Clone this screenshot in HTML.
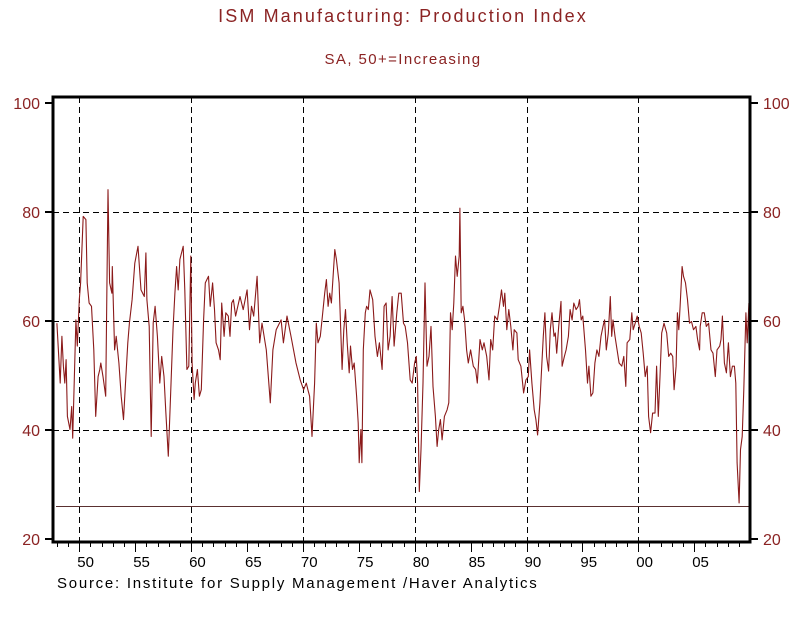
<!DOCTYPE html>
<html><head><meta charset="utf-8"><style>
body{margin:0;background:#fff;font-family:"Liberation Sans",sans-serif;}
svg{display:block}
</style></head><body>
<svg width="807" height="635" viewBox="0 0 807 635">
<text x="403" y="22" text-anchor="middle" font-size="18" letter-spacing="2.1" fill="#8b2323">ISM Manufacturing: Production Index</text>
<text x="403" y="64" text-anchor="middle" font-size="15" letter-spacing="1.4" fill="#8b2323">SA, 50+=Increasing</text>
<g id="grid"></g>
<g id="axes"></g>
<path id="minline" fill="none" stroke="#5a3030" stroke-width="1"/>
<path id="series" fill="none" stroke="#8b1a1a" stroke-width="1.1" stroke-linejoin="round"/>
<rect x="53" y="97" width="697" height="445" fill="none" stroke="#000" stroke-width="3"/>
<text x="57" y="588" font-size="15" letter-spacing="1.75" fill="#000">Source:  Institute for Supply Management /Haver Analytics</text>
</svg>
<script>
const yTicks=[20,40,60,80,100];
const xTickYears=[1950,1955,1960,1965,1970,1975,1980,1985,1990,1995,2000,2005];
const xTickLabels=["50","55","60","65","70","75","80","85","90","95","00","05"];
const gridYears=[1950,1960,1970,1980,1990,2000];
const gridValues=[40,60,80];
const minValue=26;
const dates=[1948.0,1948.29,1948.44,1948.58,1948.7,1948.82,1948.94,1949.17,1949.32,1949.41,1949.62,1949.7,1949.82,1950.0,1950.12,1950.35,1950.59,1950.71,1950.88,1951.09,1951.3,1951.47,1951.68,1951.83,1951.92,1952.12,1952.36,1952.57,1952.71,1952.92,1952.95,1953.16,1953.3,1953.54,1953.75,1953.95,1954.13,1954.34,1954.48,1954.72,1954.96,1955.25,1955.52,1955.81,1955.96,1956.05,1956.25,1956.43,1956.61,1956.78,1956.99,1957.2,1957.37,1957.58,1957.73,1957.96,1958.14,1958.38,1958.55,1958.7,1958.85,1959.0,1959.29,1959.44,1959.62,1959.79,1959.97,1960.09,1960.27,1960.38,1960.56,1960.74,1960.91,1961.12,1961.27,1961.56,1961.71,1961.92,1962.09,1962.24,1962.45,1962.6,1962.74,1962.95,1963.1,1963.33,1963.48,1963.63,1963.78,1963.98,1964.37,1964.66,1965.01,1965.22,1965.4,1965.6,1965.9,1966.14,1966.34,1966.73,1967.08,1967.32,1967.61,1968.05,1968.26,1968.58,1968.94,1969.38,1969.76,1970.06,
1970.3,1970.45,1970.6,1970.81,1971.05,1971.2,1971.35,1971.56,1971.74,1971.95,1972.1,1972.25,1972.4,1972.55,1972.7,1972.85,1973.0,1973.24,1973.36,1973.51,1973.66,1973.81,1973.96,1974.14,1974.26,1974.44,1974.59,1974.8,1974.95,1975.04,1975.19,1975.28,1975.4,1975.58,1975.7,1975.85,1976.0,1976.24,1976.45,1976.66,1976.84,1977.08,1977.26,1977.44,1977.62,1977.8,1977.98,1978.16,1978.4,1978.58,1978.79,1979.0,1979.15,1979.36,1979.6,1979.78,1979.99,1980.14,1980.26,1980.41,1980.56,1980.74,1980.92,1981.1,1981.28,1981.46,1981.64,1981.85,1982.0,1982.15,1982.3,1982.45,1982.66,1982.9,1983.05,1983.2,1983.35,1983.5,1983.65,1983.8,1983.98,1984.04,1984.16,1984.31,1984.46,1984.64,1984.79,1985.0,1985.24,1985.45,1985.6,1985.84,1986.05,1986.2,1986.44,1986.65,1986.8,1986.98,1987.16,1987.4,1987.58,1987.76,1987.94,1988.06,1988.24,1988.42,1988.6,1988.78,1988.9,1989.14,1989.26,1989.5,1989.74,1989.95,1990.16,1990.28,
1990.48,1990.69,1990.84,1990.99,1991.2,1991.38,1991.5,1991.65,1991.8,1991.98,1992.13,1992.28,1992.46,1992.58,1992.7,1992.88,1993.09,1993.18,1993.39,1993.54,1993.75,1993.9,1994.08,1994.23,1994.44,1994.62,1994.74,1994.89,1995.04,1995.28,1995.46,1995.58,1995.76,1995.94,1996.12,1996.3,1996.48,1996.66,1996.84,1996.99,1997.14,1997.32,1997.5,1997.62,1997.74,1997.92,1998.1,1998.28,1998.52,1998.7,1998.88,1999.0,1999.24,1999.42,1999.54,1999.72,1999.9,2000.08,2000.26,2000.44,2000.62,2000.8,2000.92,2001.1,2001.28,2001.49,2001.64,2001.79,2001.94,2002.09,2002.3,2002.54,2002.72,2002.9,2003.08,2003.2,2003.38,2003.5,2003.62,2003.74,2003.92,2004.04,2004.22,2004.4,2004.58,2004.76,2004.94,2005.15,2005.3,2005.48,2005.54,2005.72,2005.9,2006.08,2006.29,2006.5,2006.68,2006.89,2007.04,2007.28,2007.4,2007.52,2007.7,2007.88,2008.06,2008.24,2008.42,2008.6,2008.72,2008.84,2009.02,2009.14,2009.29,2009.44,2009.62,2009.74,2009.89];
const values=[59.6,48.6,57.2,51.7,48.6,52.9,42.5,40.1,44.3,38.5,54.7,60.2,55.4,63.9,67.0,79.2,78.6,67,63.3,62.7,54.7,42.5,49.8,51.1,52.3,49.8,46.2,84.1,67,65.1,70.0,54.7,57.2,52.3,46.2,41.9,48.6,56.0,59.6,63.9,70.6,73.7,65.7,64.5,72.5,63.9,59.0,38.8,59.6,62.7,57.2,48.6,53.5,49.8,43.7,35.2,45.0,58.4,65.1,70,65.7,71.3,73.7,65.7,51.1,51.7,71.9,52.3,45.6,48.6,51.1,46.2,47.4,60.2,67,68.2,62.7,67,62.1,56,54.7,52.9,63.3,57.2,61.5,60.9,57.2,63.3,63.9,60.9,64.5,62.1,65.7,58.4,62.7,60.9,68.2,56,59.6,54.7,45,54.7,58.4,60.2,56,60.9,57.2,52.3,49.2,47.4,
48.6,47.4,46.2,38.8,48.6,59.6,56,57.2,60.9,65.1,67.6,62.7,65.1,63.3,68.2,73.1,71.3,67,59.6,51.1,58.4,62.1,56,50.5,55.4,51.1,52.3,46.2,41.3,34,40.1,34,54.7,61.5,62.7,62.1,65.7,63.9,57.2,53.5,56,51.1,62.7,63.3,54.7,57.2,64.5,55.4,61.5,65.1,65.1,59.6,59,56,49.2,48.6,52.3,53.5,48.6,28.7,36.4,48.6,67,51.7,53.5,59,48,42.5,37,40.1,41.9,38.2,42.5,43.7,45,61.5,58.4,63.3,71.9,68.2,71.9,80.7,61.5,62.7,60.2,54.7,52.3,54.7,51.7,51.1,48.6,56.6,54.7,56,53.5,49.2,56.6,54.7,60.9,60.2,62.7,65.7,62.7,65.1,58.4,62.1,59,54.7,58.4,57.8,52.9,51.7,46.8,49.2,49.8,54.7,
48.6,43.7,41.9,39.1,45,52.3,57.2,61.5,53.5,50.8,58.4,61.5,57.2,57.8,54.1,59,63.6,51.7,53.5,54.7,57.2,62.1,60.2,63.3,62.1,62.7,63.9,60.2,60.9,54.7,48.6,51.7,46.2,46.8,52.3,54.7,53.5,57.2,59,60.2,54.7,57.8,64.5,57.2,60.2,57.2,54.7,52.3,51.7,53.5,48,56,56.6,61.5,58.4,59.6,60.9,59,57.8,54.1,49.8,51.7,42.5,39.5,43.1,43.1,51.7,42.5,49.8,57.8,59.6,57.8,53.5,54.1,53.5,47.4,51.7,61.5,58.4,62.7,70,68.2,67,63.9,59.6,59.9,58.4,59,56.6,54.7,59,61.5,61.5,59,59.6,54.7,54.1,49.8,54.7,55.4,56.6,60.9,52.3,50.5,56,49.8,51.7,51.7,48.6,34,26.6,36.4,38.8,47.4,61.5,56,63.3];

const X0=1950,PX0=79.3,PXY=11.18;
function xs(yr){return PX0+(yr-X0)*PXY;}
function ys(v){return 321-(v-60)*5.45;}
function crisp(p){return Math.round(p)+0.5;}
const NS="http://www.w3.org/2000/svg";
function mk(tag,attrs,parent){const e=document.createElementNS(NS,tag);for(const k in attrs)e.setAttribute(k,attrs[k]);parent.appendChild(e);return e;}
const grid=document.getElementById('grid'),axes=document.getElementById('axes');
gridYears.forEach(y=>{const l=mk('line',{x1:crisp(xs(y)),x2:crisp(xs(y)),y1:97,y2:542,stroke:'#000','stroke-width':1,'stroke-dasharray':'6,4'},grid);

});
gridValues.forEach(v=>{const l=mk('line',{x1:53,x2:750,y1:crisp(ys(v)),y2:crisp(ys(v)),stroke:'#000','stroke-width':1,'stroke-dasharray':'6,4'},grid);

});
yTicks.forEach(v=>{
 mk('line',{x1:45,x2:53,y1:ys(v),y2:ys(v),stroke:'#000','stroke-width':2},axes);
 mk('line',{x1:750,x2:758,y1:ys(v),y2:ys(v),stroke:'#000','stroke-width':2},axes);
 const t=mk('text',{x:40,y:ys(v)+6,'text-anchor':'end','font-size':16,fill:'#8b2323'},axes);t.textContent=v;
 
 
 const t2=mk('text',{x:763,y:ys(v)+6,'font-size':16,fill:'#8b2323'},axes);t2.textContent=v;
 
 
});
for(let y=1948;y<=2009;y++){const maj=y%5===0;mk('line',{x1:crisp(xs(y)),x2:crisp(xs(y)),y1:542,y2:maj?552:547,stroke:'#000','stroke-width':1},axes);}
xTickYears.forEach((y,i)=>{const t=mk('text',{x:xs(y)-2,y:567,'font-size':15,fill:'#000'},axes);t.textContent=xTickLabels[i];
 
 });
document.getElementById('minline').setAttribute('d','M56,'+crisp(ys(minValue))+'H749');
let d='';dates.forEach((t,i)=>{d+=(i?'L':'M')+xs(t).toFixed(1)+','+ys(values[i]).toFixed(1);});
document.getElementById('series').setAttribute('d',d);
</script>
</body></html>
